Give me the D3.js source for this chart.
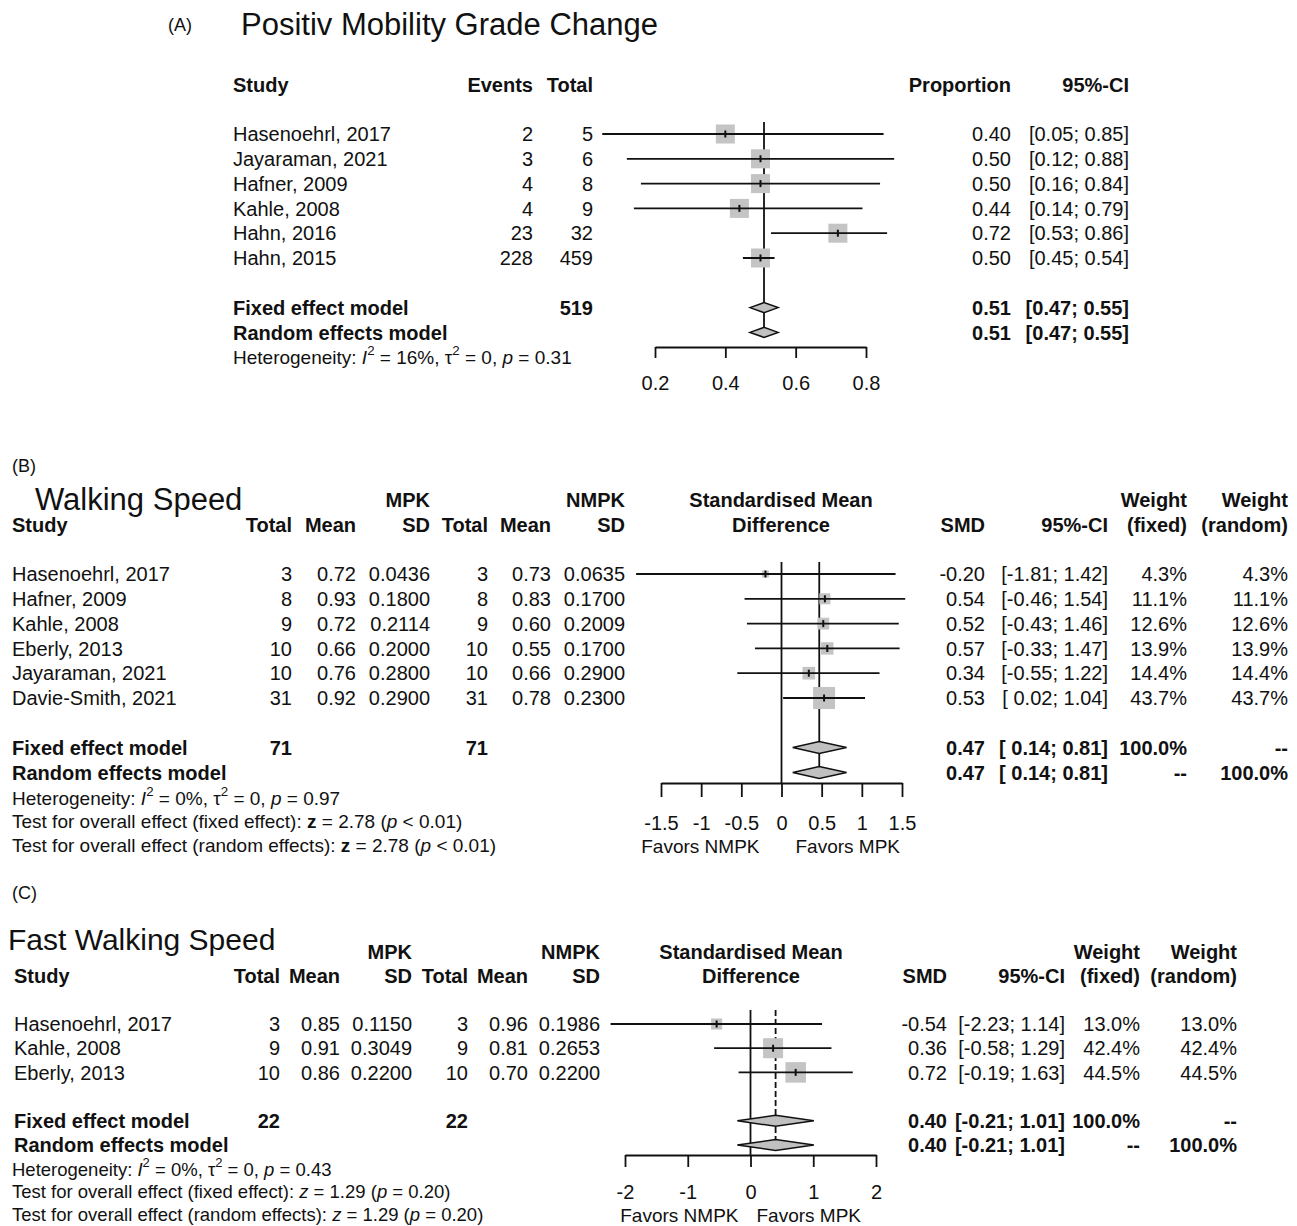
<!DOCTYPE html>
<html>
<head>
<meta charset="utf-8">
<script src="https://cdn.jsdelivr.net/npm/d3@7"></script>
<style>
  body { margin: 0; background: #fff; }
  text { font-family: "Liberation Sans", Arial, sans-serif; fill: #111; }
</style>
</head>
<body>
<svg id="chart" width="1297" height="1226"></svg>
<script>
// ---------- data: (A) positive mobility grade change ----------
const studiesA = ["Hasenoehrl, 2017", "Jayaraman, 2021", "Hafner, 2009", "Kahle, 2008", "Hahn, 2016", "Hahn, 2015"];
const eventsA = [2, 3, 4, 4, 23, 228];
const totalA = [5, 6, 8, 9, 32, 459];
const propA = [0.40, 0.50, 0.50, 0.44, 0.72, 0.50];
const lowerA = [0.05, 0.12, 0.16, 0.14, 0.53, 0.45];
const upperA = [0.85, 0.88, 0.84, 0.79, 0.86, 0.54];
const fixedA = [0.51, 0.47, 0.55];
const randomA = [0.51, 0.47, 0.55];
const ticksA = [0.2, 0.4, 0.6, 0.8];

// ---------- data: (B) walking speed ----------
const studiesB = ["Hasenoehrl, 2017", "Hafner, 2009", "Kahle, 2008", "Eberly, 2013", "Jayaraman, 2021", "Davie-Smith, 2021"];
const mpkTotalB = [3, 8, 9, 10, 10, 31];
const mpkMeanB = [0.72, 0.93, 0.72, 0.66, 0.76, 0.92];
const mpkSdB = [0.0436, 0.1800, 0.2114, 0.2000, 0.2800, 0.2900];
const nmpkTotalB = [3, 8, 9, 10, 10, 31];
const nmpkMeanB = [0.73, 0.83, 0.60, 0.55, 0.66, 0.78];
const nmpkSdB = [0.0635, 0.1700, 0.2009, 0.1700, 0.2900, 0.2300];
const smdB = [-0.20, 0.54, 0.52, 0.57, 0.34, 0.53];
const lowerB = [-1.81, -0.46, -0.43, -0.33, -0.55, 0.02];
const upperB = [1.42, 1.54, 1.46, 1.47, 1.22, 1.04];
const weightB = [4.3, 11.1, 12.6, 13.9, 14.4, 43.7];
const fixedB = [0.47, 0.14, 0.81];
const randomB = [0.47, 0.14, 0.81];
const ticksB = [-1.5, -1, -0.5, 0, 0.5, 1, 1.5];

// ---------- data: (C) fast walking speed ----------
const studiesC = ["Hasenoehrl, 2017", "Kahle, 2008", "Eberly, 2013"];
const mpkTotalC = [3, 9, 10];
const mpkMeanC = [0.85, 0.91, 0.86];
const mpkSdC = [0.1150, 0.3049, 0.2200];
const nmpkTotalC = [3, 9, 10];
const nmpkMeanC = [0.96, 0.81, 0.70];
const nmpkSdC = [0.1986, 0.2653, 0.2200];
const smdC = [-0.54, 0.36, 0.72];
const lowerC = [-2.23, -0.58, -0.19];
const upperC = [1.14, 1.29, 1.63];
const weightC = [13.0, 42.4, 44.5];
const fixedC = [0.40, -0.21, 1.01];
const randomC = [0.40, -0.21, 1.01];
const ticksC = [-2, -1, 0, 1, 2];

const svg = d3.select("#chart");

// helpers
const f2 = v => v.toFixed(2);
const f4 = v => v.toFixed(4);
const pct = v => v.toFixed(1) + "%";
function ci(lo, hi, pad) {
  const l = (pad && lo >= 0 ? " " : "") + f2(lo);
  return "[" + l + "; " + f2(hi) + "]";
}

function label(g, x, yc, s, o = {}) {
  const size = o.size || 20;
  return g.append("text")
    .attr("x", x)
    .attr("y", yc + size * 0.36)
    .attr("text-anchor", o.anchor || "start")
    .attr("font-size", size)
    .attr("font-weight", o.bold ? "bold" : null)
    .style("white-space", "pre")
    .text(s);
}

// text with italic / bold / superscript pieces
function rich(g, x, yc, parts, size) {
  const t = g.append("text")
    .attr("x", x)
    .attr("y", yc + size * 0.36)
    .attr("font-size", size)
    .style("white-space", "pre");
  let up = false;
  parts.forEach(p => {
    const f = p[1] || "";
    const s = t.append("tspan").text(p[0]);
    if (f.includes("i")) s.attr("font-style", "italic");
    if (f.includes("b")) s.attr("font-weight", "bold");
    if (f.includes("^")) {
      s.attr("dy", -size * 0.45).attr("font-size", size * 0.7);
      up = true;
    } else if (up) {
      s.attr("dy", size * 0.45);
      up = false;
    }
  });
}

// table columns
function table(g, cols, y, n) {
  cols.forEach(c => {
    const o = { anchor: c.anchor || "end" };
    if (c.top) label(g, c.x, y(-3), c.top, { anchor: o.anchor, bold: true });
    if (c.head) label(g, c.x, y(-2), c.head, { anchor: o.anchor, bold: true });
    (c.vals || []).forEach((v, i) => label(g, c.x, y(i), String(v), o));
    if (c.fixed != null) label(g, c.x, y(n + 1), String(c.fixed), { anchor: o.anchor, bold: true });
    if (c.random != null) label(g, c.x, y(n + 2), String(c.random), { anchor: o.anchor, bold: true });
  });
}

// forest marks
function forest(g, o) {
  const { x, y, est, lo, hi, size, n, fixed, random } = o;

  if (o.nullLine != null) {
    g.append("line")
      .attr("x1", x(o.nullLine)).attr("x2", x(o.nullLine))
      .attr("y1", o.lineTop).attr("y2", o.axisY)
      .attr("stroke", "#111").attr("stroke-width", 1.8);
  }
  g.append("line")
    .attr("x1", x(random[0])).attr("x2", x(random[0]))
    .attr("y1", o.lineTop).attr("y2", o.sumLineEnd)
    .attr("stroke", "#111").attr("stroke-width", 1.8)
    .attr("stroke-dasharray", o.dash || null);

  const rows = est.map((e, i) => ({ e, lo: lo[i], hi: hi[i], s: size(i), i }));

  g.selectAll(".sq").data(rows).enter().append("rect")
    .attr("x", d => x(d.e) - d.s / 2)
    .attr("y", d => y(d.i) - d.s / 2)
    .attr("width", d => d.s)
    .attr("height", d => d.s)
    .attr("fill", "#c4c4c4");

  g.selectAll(".ci").data(rows).enter().append("line")
    .attr("x1", d => x(d.lo)).attr("x2", d => x(d.hi))
    .attr("y1", d => y(d.i)).attr("y2", d => y(d.i))
    .attr("stroke", "#111").attr("stroke-width", 1.8);

  g.selectAll(".pt").data(rows).enter().append("line")
    .attr("x1", d => x(d.e)).attr("x2", d => x(d.e))
    .attr("y1", d => y(d.i) - 3.5).attr("y2", d => y(d.i) + 3.5)
    .attr("stroke", "#111").attr("stroke-width", 2);

  [[fixed, y(n + 1)], [random, y(n + 2)]].forEach(([s, yc]) => {
    const h = o.diamondH;
    g.append("path")
      .attr("d", `M${x(s[1])},${yc}L${x(s[0])},${yc - h}L${x(s[2])},${yc}L${x(s[0])},${yc + h}Z`)
      .attr("fill", "#c0c0c0")
      .attr("stroke", "#111")
      .attr("stroke-width", 1.5);
  });

  const ax = g.append("g")
    .attr("transform", `translate(0,${o.axisY})`)
    .call(d3.axisBottom(x).tickValues(o.ticks).tickSize(o.tickLen).tickSizeOuter(0)
      .tickPadding(o.tickPad).tickFormat(d => String(d)));
  ax.select(".domain").attr("stroke", "#111").attr("stroke-width", 1.8);
  ax.selectAll(".tick line").attr("stroke", "#111").attr("stroke-width", 1.8);
  ax.selectAll(".tick text").attr("font-size", 20).attr("font-family", null).attr("fill", "#111");
}

// ================= panel A =================
{
  const g = svg.append("g");
  const n = studiesA.length;
  const x = d3.scaleLinear().domain([0.2, 0.8]).range([655, 866]);
  const y = i => 134 + i * 24.8;

  label(g, 168, 25, "(A)", { size: 18 });
  label(g, 241, 24, "Positiv Mobility Grade Change", { size: 31 });

  table(g, [
    { x: 233, anchor: "start", head: "Study", vals: studiesA, fixed: "Fixed effect model", random: "Random effects model" },
    { x: 533, head: "Events", vals: eventsA },
    { x: 593, head: "Total", vals: totalA, fixed: d3.sum(totalA) },
    { x: 1011, head: "Proportion", vals: propA.map(f2), fixed: f2(fixedA[0]), random: f2(randomA[0]) },
    { x: 1129, head: "95%-CI", vals: lowerA.map((l, i) => ci(l, upperA[i], false)),
      fixed: ci(fixedA[1], fixedA[2], false), random: ci(randomA[1], randomA[2], false) }
  ], y, n);

  rich(g, 233, 357, [["Heterogeneity: "], ["I", "i"], ["2", "^"], [" = 16%, "], ["τ"], ["2", "^"],
    [" = 0, "], ["p", "i"], [" = 0.31"]], 19);

  forest(g, {
    x, y, n, est: propA, lo: lowerA, hi: upperA, size: () => 19,
    fixed: fixedA, random: randomA,
    nullLine: null, lineTop: 122, sumLineEnd: y(n + 2) + 5,
    diamondH: 5, axisY: 347, ticks: ticksA, tickLen: 11, tickPad: 18
  });
}

// ================= panel B =================
{
  const g = svg.append("g");
  const n = studiesB.length;
  const x = d3.scaleLinear().domain([-1.5, 1.5]).range([661, 902]);
  const y = i => 574 + i * 24.8;
  const sz = d3.scaleSqrt().domain([0, d3.max(weightB)]).range([0, 22]);
  const pad = lowerB.some(v => v < 0);

  label(g, 12, 466, "(B)", { size: 18 });
  label(g, 35, 499, "Walking Speed", { size: 31 });

  table(g, [
    { x: 12, anchor: "start", head: "Study", vals: studiesB, fixed: "Fixed effect model", random: "Random effects model" },
    { x: 292, head: "Total", vals: mpkTotalB, fixed: d3.sum(mpkTotalB) },
    { x: 356, head: "Mean", vals: mpkMeanB.map(f2) },
    { x: 430, top: "MPK", head: "SD", vals: mpkSdB.map(f4) },
    { x: 488, head: "Total", vals: nmpkTotalB, fixed: d3.sum(nmpkTotalB) },
    { x: 551, head: "Mean", vals: nmpkMeanB.map(f2) },
    { x: 625, top: "NMPK", head: "SD", vals: nmpkSdB.map(f4) },
    { x: 781, anchor: "middle", top: "Standardised Mean", head: "Difference" },
    { x: 985, head: "SMD", vals: smdB.map(f2), fixed: f2(fixedB[0]), random: f2(randomB[0]) },
    { x: 1108, head: "95%-CI", vals: lowerB.map((l, i) => ci(l, upperB[i], pad)),
      fixed: ci(fixedB[1], fixedB[2], pad), random: ci(randomB[1], randomB[2], pad) },
    { x: 1187, top: "Weight", head: "(fixed)", vals: weightB.map(pct), fixed: "100.0%", random: "--" },
    { x: 1288, top: "Weight", head: "(random)", vals: weightB.map(pct), fixed: "--", random: "100.0%" }
  ], y, n);

  rich(g, 12, 798, [["Heterogeneity: "], ["I", "i"], ["2", "^"], [" = 0%, "], ["τ"], ["2", "^"],
    [" = 0, "], ["p", "i"], [" = 0.97"]], 19);
  rich(g, 12, 821, [["Test for overall effect (fixed effect): "], ["z", "b"], [" = 2.78 ("], ["p", "i"], [" < 0.01)"]], 19);
  rich(g, 12, 845, [["Test for overall effect (random effects): "], ["z", "b"], [" = 2.78 ("], ["p", "i"], [" < 0.01)"]], 19);

  forest(g, {
    x, y, n, est: smdB, lo: lowerB, hi: upperB, size: i => sz(weightB[i]),
    fixed: fixedB, random: randomB,
    nullLine: 0, lineTop: 562, sumLineEnd: y(n + 2),
    diamondH: 6, axisY: 783, ticks: ticksB, tickLen: 14, tickPad: 19
  });
  label(g, x(0) - 22, 846, "Favors NMPK", { size: 19, anchor: "end" });
  label(g, x(0) + 14, 846, "Favors MPK", { size: 19 });
}

// ================= panel C =================
{
  const g = svg.append("g");
  const n = studiesC.length;
  const x = d3.scaleLinear().domain([-2, 2]).range([625, 876]);
  const y = i => 1024 + i * 24.2;
  const sz = d3.scaleSqrt().domain([0, d3.max(weightC)]).range([0, 20.5]);

  label(g, 12, 893, "(C)", { size: 18 });
  label(g, 8, 939, "Fast Walking Speed", { size: 30 });

  table(g, [
    { x: 14, anchor: "start", head: "Study", vals: studiesC, fixed: "Fixed effect model", random: "Random effects model" },
    { x: 280, head: "Total", vals: mpkTotalC, fixed: d3.sum(mpkTotalC) },
    { x: 340, head: "Mean", vals: mpkMeanC.map(f2) },
    { x: 412, top: "MPK", head: "SD", vals: mpkSdC.map(f4) },
    { x: 468, head: "Total", vals: nmpkTotalC, fixed: d3.sum(nmpkTotalC) },
    { x: 528, head: "Mean", vals: nmpkMeanC.map(f2) },
    { x: 600, top: "NMPK", head: "SD", vals: nmpkSdC.map(f4) },
    { x: 751, anchor: "middle", top: "Standardised Mean", head: "Difference" },
    { x: 947, head: "SMD", vals: smdC.map(f2), fixed: f2(fixedC[0]), random: f2(randomC[0]) },
    { x: 1065, head: "95%-CI", vals: lowerC.map((l, i) => ci(l, upperC[i], false)),
      fixed: ci(fixedC[1], fixedC[2], false), random: ci(randomC[1], randomC[2], false) },
    { x: 1140, top: "Weight", head: "(fixed)", vals: weightC.map(pct), fixed: "100.0%", random: "--" },
    { x: 1237, top: "Weight", head: "(random)", vals: weightC.map(pct), fixed: "--", random: "100.0%" }
  ], y, n);

  rich(g, 12, 1169, [["Heterogeneity: "], ["I", "i"], ["2", "^"], [" = 0%, "], ["τ"], ["2", "^"],
    [" = 0, "], ["p", "i"], [" = 0.43"]], 18.5);
  rich(g, 12, 1191, [["Test for overall effect (fixed effect): "], ["z", "i"], [" = 1.29 ("], ["p", "i"], [" = 0.20)"]], 18.5);
  rich(g, 12, 1214, [["Test for overall effect (random effects): "], ["z", "i"], [" = 1.29 ("], ["p", "i"], [" = 0.20)"]], 18.5);

  forest(g, {
    x, y, n, est: smdC, lo: lowerC, hi: upperC, size: i => sz(weightC[i]),
    fixed: fixedC, random: randomC,
    nullLine: 0, lineTop: 1010, sumLineEnd: y(n + 2) - 6, dash: "6,3",
    diamondH: 5.5, axisY: 1155, ticks: ticksC, tickLen: 12, tickPad: 18
  });
  label(g, x(0) - 12, 1215, "Favors NMPK", { size: 19, anchor: "end" });
  label(g, x(0) + 6, 1215, "Favors MPK", { size: 19 });
}
</script>
</body>
</html>
